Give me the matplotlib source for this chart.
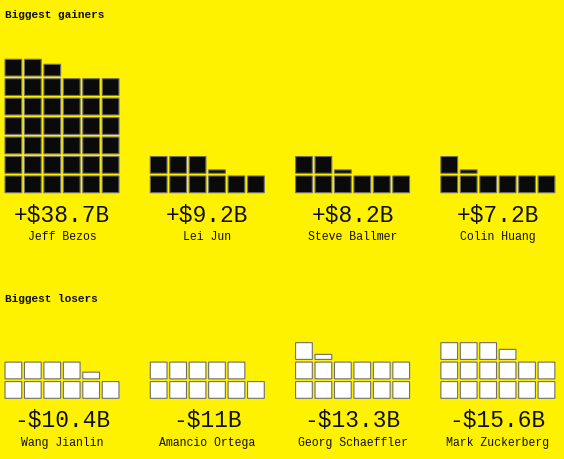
import math
import matplotlib
matplotlib.use("Agg")
import matplotlib.pyplot as plt

# ---- data ----
gainer_names = ["Jeff Bezos", "Lei Jun", "Steve Ballmer", "Colin Huang"]
gainer_values = [38.7, 9.2, 8.2, 7.2]
gainer_labels = ["+$38.7B", "+$9.2B", "+$8.2B", "+$7.2B"]

loser_names = ["Wang Jianlin", "Amancio Ortega", "Georg Schaeffler", "Mark Zuckerberg"]
loser_values = [10.4, 11.0, 13.3, 15.6]
loser_labels = ["-$10.4B", "-$11B", "-$13.3B", "-$15.6B"]

# ---- style / layout ----
BG = "#FFF200"
EDGE = "#6e6e6e"
W, H, DPI = 564, 459, 100
PITCH = 19.45          # px per square unit
SQ = 0.86              # square size in units
COLS = 6
PANEL = 7.47           # panel offset in units
FONT = "Liberation Mono"

fig = plt.figure(figsize=(W / DPI, H / DPI), dpi=DPI, facecolor=BG)


def make_axes(base_px):
    xmin, xmax = 0, 28.9
    ymin, ymax = -3.2, 7.8
    left = 5 / W
    width = (xmax - xmin) * PITCH / W
    bottom_px = base_px - ymin * PITCH
    bottom = 1 - bottom_px / H
    height = (ymax - ymin) * PITCH / H
    ax = fig.add_axes([left, bottom, width, height])
    ax.set_xlim(xmin, xmax)
    ax.set_ylim(ymin, ymax)
    ax.set_facecolor("none")
    ax.axis("off")
    return ax


def draw_group(ax, values, labels, names, fill):
    for i, (v, lab, name) in enumerate(zip(values, labels, names)):
        x0 = i * PANEL
        n_full = int(math.floor(v + 1e-9))
        frac = v - n_full
        xs, bottoms, heights = [], [], []
        for k in range(n_full):
            xs.append(x0 + (k % COLS))
            bottoms.append(k // COLS)
            heights.append(SQ)
        if frac > 1e-6:
            xs.append(x0 + (n_full % COLS))
            bottoms.append(n_full // COLS)
            heights.append(SQ * frac)
        bars = ax.bar(xs, heights, width=SQ, bottom=bottoms, align="edge",
                      color=fill, edgecolor=EDGE, linewidth=0.8)
        for b in bars:
            b.set_snap(False)
            b.set_clip_on(False)
        cx = x0 + (COLS - 1 + SQ) / 2
        ax.text(cx, -1.49, lab, ha="center", va="baseline",
                fontsize=16.5, family=FONT, color="#111111")
        ax.text(cx, -2.43, name, ha="center", va="baseline",
                fontsize=8.3, family=FONT, color="#111111")


ax_g = make_axes(192.7)
draw_group(ax_g, gainer_values, gainer_labels, gainer_names, "#0a0a0a")

ax_l = make_axes(398.3)
draw_group(ax_l, loser_values, loser_labels, loser_names, "#ffffff")

fig.text(5 / W, 1 - 18.3 / H, "Biggest gainers", ha="left", va="baseline",
         fontsize=8, family=FONT, fontweight="bold", color="#111111")
fig.text(5 / W, 1 - 301.7 / H, "Biggest losers", ha="left", va="baseline",
         fontsize=8, family=FONT, fontweight="bold", color="#111111")

fig.savefig("out.png", dpi=DPI, facecolor=BG)
